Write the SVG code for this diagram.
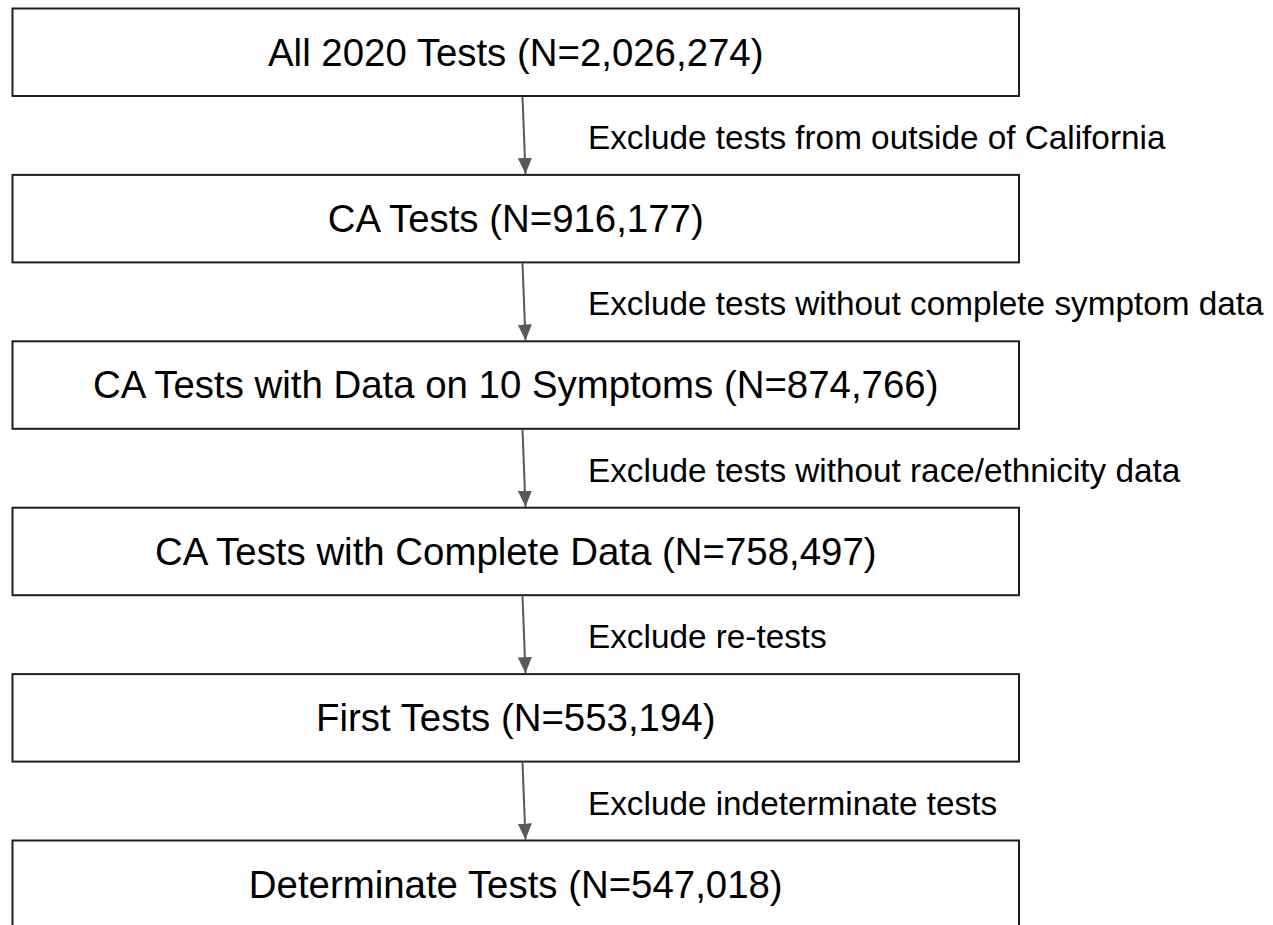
<svg xmlns="http://www.w3.org/2000/svg" width="1273" height="925" viewBox="0 0 1273 925">
<style>
.box{fill:#fff;stroke:#1f1f1f;stroke-width:2}
.t{font-family:"Liberation Sans",Arial,sans-serif;font-size:38.4px;fill:#000;text-anchor:middle}
.l{font-family:"Liberation Sans",Arial,sans-serif;font-size:33.3px;fill:#000}
.c{stroke:#595959;stroke-width:2;fill:none;marker-end:url(#ah)}
</style>
<defs>
<marker id="ah" markerWidth="16" markerHeight="18" refX="17" refY="7.5" orient="auto" markerUnits="userSpaceOnUse" viewBox="0 0 17 15">
<path d="M0,0 L17,7.5 L0,15 Z" fill="#595959"/>
</marker>
</defs>
<rect width="1273" height="925" fill="#fff"/>
<g id="connectors">
<line class="c" x1="522.5" y1="97" x2="525.5" y2="174"/>
<line class="c" x1="522.5" y1="263.4" x2="525.5" y2="340.4"/>
<line class="c" x1="522.5" y1="429.8" x2="525.5" y2="506.8"/>
<line class="c" x1="522.5" y1="596.2" x2="525.5" y2="673.2"/>
<line class="c" x1="522.5" y1="762.6" x2="525.5" y2="839.6"/>
<text class="l" x="588" y="149">Exclude tests from outside of California</text>
<text class="l" x="588" y="315.4">Exclude tests without complete symptom data</text>
<text class="l" x="588" y="481.8">Exclude tests without race/ethnicity data</text>
<text class="l" x="588" y="648.2">Exclude re-tests</text>
<text class="l" x="588" y="814.6">Exclude indeterminate tests</text>
</g>
<g id="n1"><rect class="box" x="12.5" y="8.5" width="1006.5" height="87.5"/><text class="t" x="515.75" y="65.5">All 2020 Tests (N=2,026,274)</text></g>
<g id="n2"><rect class="box" x="12.5" y="174.9" width="1006.5" height="87.5"/><text class="t" x="515.75" y="231.9">CA Tests (N=916,177)</text></g>
<g id="n3"><rect class="box" x="12.5" y="341.3" width="1006.5" height="87.5"/><text class="t" x="515.75" y="398.3">CA Tests with Data on 10 Symptoms (N=874,766)</text></g>
<g id="n4"><rect class="box" x="12.5" y="507.7" width="1006.5" height="87.5"/><text class="t" x="515.75" y="564.7">CA Tests with Complete Data (N=758,497)</text></g>
<g id="n5"><rect class="box" x="12.5" y="674.1" width="1006.5" height="87.5"/><text class="t" x="515.75" y="731.1">First Tests (N=553,194)</text></g>
<g id="n6"><rect class="box" x="12.5" y="840.5" width="1006.5" height="87.5"/><text class="t" x="515.75" y="897.5">Determinate Tests (N=547,018)</text></g>
</svg>
